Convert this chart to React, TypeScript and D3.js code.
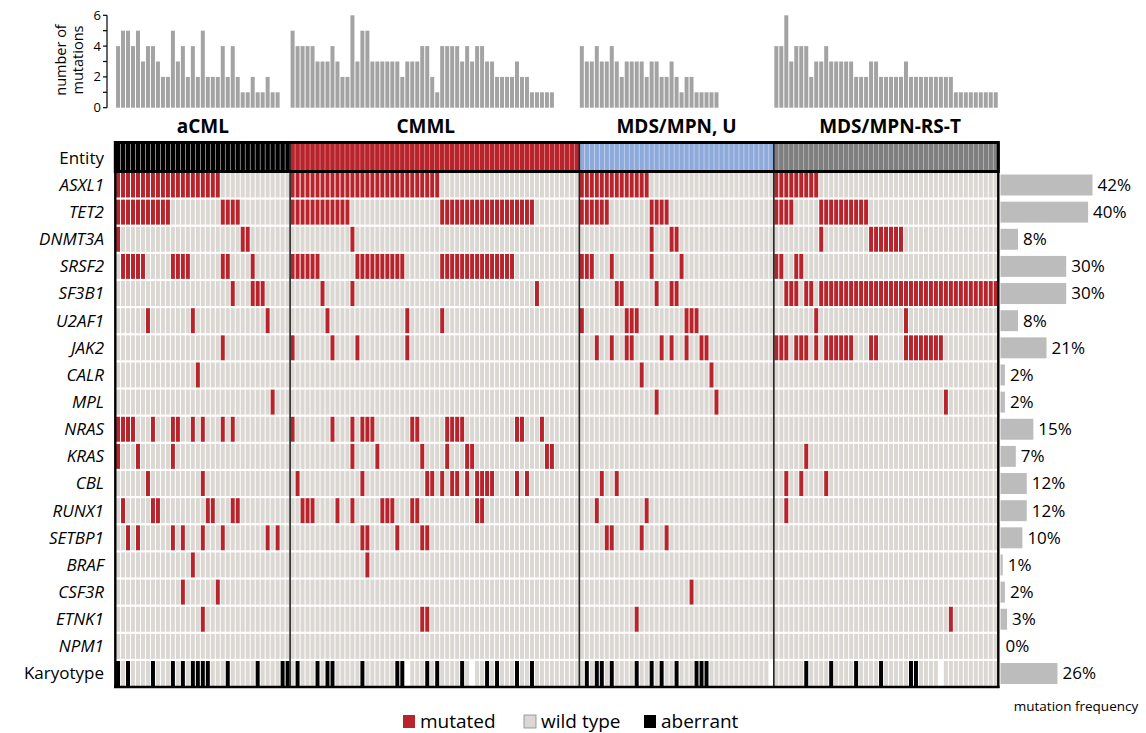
import React from "react";
import * as d3 from "d3";

// ---------- DATA ----------
const entities = ["aCML", "CMML", "MDS/MPN, U", "MDS/MPN-RS-T"];
const entitySizes = [35, 58, 39, 45];
const entityColors = ["#000000", "#b8242b", "#8eaadb", "#7f7f7f"];
const entityStripes = ["#cfcfcf", "#e9a9a9", "#dde6f5", "#cdcdcd"];

const genes = [
  "ASXL1", "TET2", "DNMT3A", "SRSF2", "SF3B1", "U2AF1", "JAK2", "CALR", "MPL",
  "NRAS", "KRAS", "CBL", "RUNX1", "SETBP1", "BRAF", "CSF3R", "ETNK1", "NPM1",
];

// mutated patient positions within each entity: [aCML, CMML, MDS/MPN U, MDS/MPN-RS-T]
const ASXL1 = ["0-20", "0-29", "0-13", "0-8"];
const TET2 = ["0-10,21-24", "0-11,30-48", "0-5,14-17", "0-3,9-18"];
const DNMT3A = ["0,25,26", "12", "14,18,19", "9,19-25"];
const SRSF2 = ["1-5,11-14,21,22,27", "0-5,13-22,30-44", "0-2,6,14,20", "0,1,4,5"];
const SF3B1 = ["23,27-29", "6,12,49", "7,8,15,18,19", "2-4,6,7,9-44"];
const U2AF1 = ["6,15,30", "7,23,30", "0,9-11,21-23", "8,26"];
const JAK2 = ["21", "0,8,13,23", "3,6,9,10,16,18,21,24,25", "0-2,4-6,8,10-15,19,20,26-33"];
const CALR = ["16", "", "12,26", ""];
const MPL = ["31", "", "15,27", "34"];
const NRAS = ["0-3,7,11,12,15,17,21,23", "0,8,12,14-16,24,25,31-34,45,46,50", "", ""];
const KRAS = ["0,4,11", "12,17,26,31,35,36,51,52", "", "6"];
const CBL = ["6,17", "1,14,27,28,30,32,33,35,37-40,45,47", "4,7", "2,5,10"];
const RUNX1 = ["1,7,8,18,19,23,24", "2-4,9,12,18-20,24,25,37,38", "3,13", "2"];
const SETBP1 = ["2,4,11,13,17,21,30,32", "14,15,21,26,27", "5,6,12,17", ""];
const BRAF = ["15", "15", "", ""];
const CSF3R = ["13,20", "", "22", ""];
const ETNK1 = ["17", "26,27", "11", "35"];
const NPM1 = ["", "", "", ""];
const geneMutations = [
  ASXL1, TET2, DNMT3A, SRSF2, SF3B1, U2AF1, JAK2, CALR, MPL,
  NRAS, KRAS, CBL, RUNX1, SETBP1, BRAF, CSF3R, ETNK1, NPM1,
];

const karyotypeAberrant = [
  "0,2,7,11,13,15-18,22,28,33,34",
  "1,5,7,8,14,21,22,27,29,34,39,41,45,48",
  "1,3,4,6,11,14,16,19,23-25",
  "6,11,16,21,27,28",
];
const karyotypeMissing = ["", "23,36", "38", "33"];

// number of mutations per patient (top panel)
const countsACML = [4, 5, 5, 4, 5, 3, 4, 4, 3, 2, 2, 5, 3, 4, 2, 4, 2, 5, 2, 2, 2, 4, 2, 4, 2, 1, 1, 2, 1, 1, 2, 1, 1];
const countsCMML = [5, 4, 4, 4, 4, 3, 3, 3, 4, 3, 2, 2, 6, 3, 5, 5, 3, 3, 3, 3, 3, 3, 2, 3, 3, 3, 4, 4, 2, 1, 4, 4, 4, 4, 3, 4, 3, 4, 4, 3, 3, 2, 2, 2, 2, 3, 2, 2, 1, 1, 1, 1, 1];
const countsMDSU = [4, 3, 3, 4, 3, 3, 4, 3, 2, 3, 3, 3, 3, 2, 3, 3, 2, 2, 3, 2, 1, 2, 2, 1, 1, 1, 1, 1];
const countsRST = [4, 4, 6, 3, 4, 4, 4, 2, 3, 3, 4, 3, 3, 3, 3, 3, 2, 2, 2, 3, 3, 2, 2, 2, 2, 2, 3, 2, 2, 2, 2, 2, 2, 2, 2, 2, 1, 1, 1, 1, 1, 1, 1, 1, 1];
const mutationCounts = [countsACML, countsCMML, countsMDSU, countsRST];

const frequencies = [42, 40, 8, 30, 30, 8, 21, 2, 2, 15, 7, 12, 12, 10, 1, 2, 3, 0, 26];
const countTicks = [0, 1, 2, 3, 4, 5, 6];

const legendItems = [
  { label: "mutated", color: "#b8242b" },
  { label: "wild type", color: "#dbd7d2" },
  { label: "aberrant", color: "#000000" },
];

// ---------- HELPERS ----------
function parseIdx(s: string): number[] {
  if (!s) return [];
  const out: number[] = [];
  s.split(",").forEach((p) => {
    const [a, b] = p.split("-").map(Number);
    if (b === undefined) out.push(a);
    else for (let i = a; i <= b; i++) out.push(i);
  });
  return out;
}

const offsets = entitySizes.map((_, i) => d3.sum(entitySizes.slice(0, i)));
const nPatients = d3.sum(entitySizes);

const WILD = "#dbd7d2";
const MUT = "#b8242b";
const FONT = "'Open Sans', 'Noto Sans', sans-serif";

export default function App() {
  const rows = [...genes, "Karyotype"];
  const x = d3
    .scaleBand<number>()
    .domain(d3.range(nPatients))
    .range([115.8, 998])
    .paddingInner(0.2)
    .paddingOuter(0.05);
  const y = d3.scaleBand<string>().domain(rows).range([172.5, 686]).paddingInner(0.08);
  const yc = d3.scaleLinear().domain([0, 6]).range([107.7, 15.3]);
  const fx = d3.scaleLinear().domain([0, 42]).range([0, 92]);
  const bw = x.bandwidth();
  const step = x.step();

  // status matrix
  const cells: { r: string; c: number; fill: string }[] = [];
  rows.forEach((r, ri) => {
    const status: string[] = new Array(nPatients).fill(WILD);
    if (ri < genes.length) {
      geneMutations[ri].forEach((s, g) => parseIdx(s).forEach((i) => (status[offsets[g] + i] = MUT)));
    } else {
      karyotypeAberrant.forEach((s, g) => parseIdx(s).forEach((i) => (status[offsets[g] + i] = "#000000")));
      karyotypeMissing.forEach((s, g) => parseIdx(s).forEach((i) => (status[offsets[g] + i] = "#ffffff")));
    }
    status.forEach((f, c) => cells.push({ r, c, fill: f }));
  });

  const groupStart = (g: number) => (x(offsets[g]) as number) - (step - bw) / 2;
  const groupEnd = (g: number) => (x(offsets[g] + entitySizes[g] - 1) as number) + bw + (step - bw) / 2;

  return (
    <svg
      width={1146}
      height={733}
      style={{ position: "absolute", left: 0, top: 0, background: "#fff" }}
      fontFamily={FONT}
    >
      {/* top panel: number of mutations */}
      <g>
        <line x1={107} x2={107} y1={yc(6)} y2={yc(0)} stroke="#000" strokeWidth={1.2} />
        {countTicks.map((t) => (
          <g key={t}>
            <line x1={103} x2={107} y1={yc(t)} y2={yc(t)} stroke="#000" strokeWidth={1.2} />
            {t % 2 === 0 && (
              <text x={101} y={yc(t)} dy="0.35em" textAnchor="end" fontSize={13} fill="#000">
                {t}
              </text>
            )}
          </g>
        ))}
        <text transform="translate(66,60) rotate(-90)" textAnchor="middle" fontSize={14.5} fill="#000">
          number of
        </text>
        <text transform="translate(83,60) rotate(-90)" textAnchor="middle" fontSize={14.5} fill="#000">
          mutations
        </text>
        {mutationCounts.map((arr, g) =>
          arr.map((v, i) => (
            <rect
              key={`b${g}-${i}`}
              x={x(offsets[g] + i)}
              y={yc(v)}
              width={bw}
              height={yc(0) - yc(v)}
              fill="#a3a3a3"
            />
          ))
        )}
        {entities.map((e, g) => (
          <text
            key={e}
            x={(groupStart(g) + groupEnd(g)) / 2 + (g === 1 ? -9 : g === 3 ? 4 : 0)}
            y={133}
            textAnchor="middle"
            fontSize={19}
            fontWeight="bold"
            fill="#000"
          >
            {e}
          </text>
        ))}
      </g>

      {/* entity row */}
      {entities.map((e, g) => (
        <g key={`ent${g}`}>
          <rect x={groupStart(g)} y={144} width={groupEnd(g) - groupStart(g)} height={26} fill={entityStripes[g]} />
          {d3.range(entitySizes[g]).map((i) => (
            <rect
              key={i}
              x={(x(offsets[g] + i) as number) - 0.2}
              y={144}
              width={bw + 0.4}
              height={26}
              fill={entityColors[g]}
            />
          ))}
        </g>
      ))}

      {/* grid cells */}
      <rect x={115} y={172} width={884} height={515} fill="#ffffff" />
      {cells.map((d) => (
        <rect key={`${d.r}-${d.c}`} x={x(d.c)} y={y(d.r)} width={bw} height={y.bandwidth()} fill={d.fill} />
      ))}

      {/* group separators */}
      {entities.slice(1).map((e, g) => (
        <line
          key={`sep${g}`}
          x1={groupStart(g + 1)}
          x2={groupStart(g + 1)}
          y1={143}
          y2={687}
          stroke="#222"
          strokeWidth={1.6}
        />
      ))}
      {/* borders */}
      <rect x={115.3} y={142.5} width={883} height={29} fill="none" stroke="#000" strokeWidth={3} />
      <line x1={115.3} x2={115.3} y1={142} y2={688} stroke="#000" strokeWidth={2.4} />
      <line x1={998.3} x2={998.3} y1={142} y2={688} stroke="#000" strokeWidth={2.4} />
      <line x1={114} x2={999.5} y1={687} y2={687} stroke="#000" strokeWidth={2.6} />

      {/* row labels */}
      <text x={104} y={158} dy="0.35em" textAnchor="end" fontSize={17} fill="#000">
        Entity
      </text>
      {rows.map((r, i) => (
        <text
          key={`lab${r}`}
          x={104}
          y={(y(r) as number) + y.bandwidth() / 2}
          dy="0.35em"
          textAnchor="end"
          fontSize={17}
          fontStyle={i < genes.length ? "italic" : "normal"}
          fill="#000"
        >
          {r}
        </text>
      ))}

      {/* mutation frequency bars */}
      {rows.map((r, i) => (
        <g key={`f${r}`}>
          <rect
            x={1000.5}
            y={(y(r) as number) + 2}
            width={fx(frequencies[i])}
            height={y.bandwidth() - 4}
            fill="#bcbcbc"
          />
          <text
            x={1000.5 + fx(frequencies[i]) + 5}
            y={(y(r) as number) + y.bandwidth() / 2}
            dy="0.35em"
            fontSize={17}
            fill="#000"
          >
            {frequencies[i]}%
          </text>
        </g>
      ))}
      <text x={1076} y={711} textAnchor="middle" fontSize={13.5} fill="#000">
        mutation frequency
      </text>

      {/* legend */}
      {legendItems.map((d, i) => {
        const lx = [403, 524, 644][i];
        return (
          <g key={d.label}>
            <rect
              x={lx}
              y={715}
              width={12}
              height={13}
              fill={d.color}
              stroke={i === 1 ? "#888" : "none"}
              strokeWidth={0.8}
            />
            <text x={lx + 17} y={727.5} fontSize={19} fill="#000">
              {d.label}
            </text>
          </g>
        );
      })}
    </svg>
  );
}
